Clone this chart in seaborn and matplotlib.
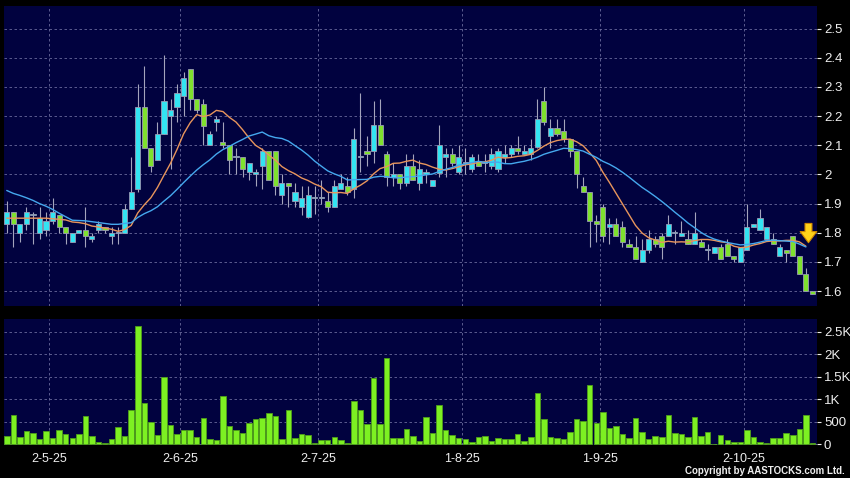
import numpy as np
import pandas as pd
import matplotlib
matplotlib.use("Agg")
import matplotlib.pyplot as plt
import seaborn as sns

# Daily candles, oldest first
open_ = [1.83, 1.87, 1.80, 1.83, 1.86, 1.80, 1.81, 1.84, 1.86, 1.82,
         1.77, 1.80, 1.81, 1.78, 1.81, 1.82, 1.79, 1.80, 1.80, 1.88,
         1.95, 2.23, 2.09, 2.05, 2.14, 2.20, 2.23, 2.27, 2.36, 2.26,
         2.24, 2.10, 2.18, 2.11, 2.10, 2.06, 2.06, 2.01, 2.00, 2.03,
         2.08, 2.08, 1.93, 1.97, 1.91, 1.89, 1.855, 1.92, 1.92, 1.91,
         1.89, 1.95, 1.96, 1.95, 2.06, 2.08, 2.08, 2.17, 2.07, 1.99,
         2.00, 1.97, 2.03, 1.97, 2.00, 1.96, 2.005, 2.06, 2.07, 2.01,
         2.04, 2.02, 2.045, 2.04, 2.03, 2.02, 2.06, 2.07, 2.09, 2.07,
         2.07, 2.095, 2.25, 2.13, 2.16, 2.15, 2.12, 2.08, 1.96, 1.94,
         1.84, 1.89, 1.82, 1.83, 1.82, 1.76, 1.75, 1.70, 1.74, 1.78,
         1.79, 1.79, 1.80, 1.79, 1.78, 1.76, 1.77, 1.74, 1.73, 1.75,
         1.76, 1.72, 1.70, 1.74, 1.82, 1.81, 1.78, 1.78, 1.72, 1.74,
         1.79, 1.72, 1.66, 1.60]
high = [1.91, 1.87, 1.83, 1.89, 1.87, 1.89, 1.87, 1.92, 1.86, 1.82,
        1.80, 1.81, 1.89, 1.80, 1.84, 1.82, 1.82, 1.82, 1.90, 2.06,
        2.31, 2.37, 2.09, 2.18, 2.41, 2.26, 2.31, 2.35, 2.36, 2.26,
        2.26, 2.15, 2.20, 2.18, 2.10, 2.09, 2.06, 2.04, 2.02, 2.09,
        2.08, 2.08, 2.00, 1.97, 1.97, 1.96, 1.96, 1.96, 1.98, 1.94,
        1.98, 2.00, 1.99, 2.16, 2.28, 2.13, 2.25, 2.26, 2.08, 2.04,
        2.00, 2.07, 2.07, 2.05, 2.02, 1.98, 2.17, 2.09, 2.09, 2.10,
        2.09, 2.07, 2.07, 2.07, 2.09, 2.09, 2.10, 2.10, 2.13, 2.10,
        2.12, 2.26, 2.30, 2.19, 2.19, 2.19, 2.12, 2.08, 1.99, 1.94,
        1.86, 1.90, 1.85, 1.85, 1.84, 1.78, 1.79, 1.78, 1.81, 1.79,
        1.80, 1.86, 1.81, 1.84, 1.81, 1.87, 1.78, 1.76, 1.75, 1.76,
        1.78, 1.72, 1.75, 1.90, 1.83, 1.88, 1.82, 1.80, 1.76, 1.74,
        1.79, 1.72, 1.68, 1.60]
low = [1.80, 1.75, 1.77, 1.81, 1.76, 1.78, 1.79, 1.83, 1.80, 1.76,
       1.77, 1.80, 1.75, 1.77, 1.80, 1.80, 1.76, 1.76, 1.80, 1.88,
       1.94, 2.09, 2.01, 2.05, 2.14, 2.02, 2.18, 2.20, 2.22, 2.21,
       2.10, 2.10, 2.15, 2.09, 2.00, 2.00, 1.99, 1.98, 1.96, 1.95,
       1.98, 1.93, 1.90, 1.89, 1.89, 1.86, 1.85, 1.865, 1.90, 1.87,
       1.89, 1.95, 1.93, 1.92, 2.01, 2.03, 2.04, 2.10, 1.96, 1.96,
       1.95, 1.96, 1.98, 1.945, 1.97, 1.96, 1.99, 1.99, 2.03, 2.00,
       2.00, 2.01, 2.03, 2.01, 2.02, 2.01, 2.04, 2.06, 2.07, 2.07,
       2.05, 2.09, 2.17, 2.09, 2.13, 2.11, 2.06, 1.955, 1.94, 1.75,
       1.77, 1.77, 1.76, 1.79, 1.75, 1.75, 1.71, 1.70, 1.73, 1.75,
       1.71, 1.79, 1.76, 1.79, 1.76, 1.76, 1.75, 1.705, 1.73, 1.71,
       1.72, 1.70, 1.70, 1.74, 1.82, 1.81, 1.78, 1.76, 1.72, 1.70,
       1.72, 1.66, 1.60, 1.59]
close = [1.87, 1.83, 1.83, 1.87, 1.86, 1.85, 1.84, 1.87, 1.82, 1.80,
         1.80, 1.81, 1.79, 1.79, 1.83, 1.81, 1.80, 1.80, 1.88, 1.94,
         2.23, 2.09, 2.03, 2.14, 2.25, 2.22, 2.28, 2.33, 2.26, 2.22,
         2.165, 2.14, 2.19, 2.10, 2.05, 2.06, 2.02, 2.04, 2.01, 2.08,
         1.98, 1.96, 1.97, 1.96, 1.94, 1.92, 1.93, 1.92, 1.92, 1.89,
         1.96, 1.97, 1.94, 2.12, 2.06, 2.07, 2.17, 2.10, 1.99, 2.00,
         1.97, 2.03, 1.98, 2.02, 2.01, 1.98, 2.10, 2.07, 2.04, 2.06,
         2.04, 2.06, 2.03, 2.04, 2.07, 2.08, 2.07, 2.09, 2.08, 2.08,
         2.09, 2.19, 2.18, 2.16, 2.14, 2.12, 2.08, 2.00, 1.94, 1.84,
         1.83, 1.79, 1.83, 1.79, 1.77, 1.75, 1.71, 1.74, 1.78, 1.76,
         1.75, 1.83, 1.80, 1.80, 1.76, 1.80, 1.75, 1.74, 1.75, 1.71,
         1.72, 1.71, 1.75, 1.82, 1.83, 1.85, 1.82, 1.76, 1.75, 1.73,
         1.72, 1.66, 1.60, 1.59]
volume = [187, 650, 150, 300, 240, 105, 300, 135, 315, 215,
          127, 225, 620, 172, 52, 22, 112, 375, 172, 755,
          2637, 910, 500, 210, 1494, 433, 232, 315, 315, 165,
          575, 112, 82, 1075, 403, 320, 254, 463, 560, 590,
          695, 635, 112, 762, 127, 232, 194, 22, 97, 82,
          165, 90, 22, 964, 755, 456, 1479, 448, 1912, 142,
          142, 329, 172, 60, 605, 246, 881, 314, 194, 142,
          120, 37, 164, 179, 75, 127, 112, 112, 232, 75,
          149, 1143, 568, 164, 142, 112, 269, 560, 508, 1315,
          471, 710, 359, 403, 232, 127, 583, 261, 105, 172,
          149, 650, 254, 217, 164, 605, 172, 269, 0, 194,
          90, 52, 52, 314, 164, 52, 22, 127, 127, 246,
          202, 344, 650, 22]

# moving averages at the left edge (their windows start before the chart)
ma10_head = [1.85, 1.85, 1.85, 1.85, 1.85, 1.85, 1.85, 1.848, 1.846]
ma20_head = [1.945, 1.935, 1.928, 1.92, 1.911, 1.90, 1.891, 1.88, 1.867, 1.855,
             1.843, 1.842, 1.841, 1.838, 1.835, 1.832, 1.829, 1.829, 1.832]

month_pos = [6.5, 26.5, 47.5, 69.5, 90.5, 112.5]
month_labels = ["2-5-25", "2-6-25", "2-7-25", "1-8-25", "1-9-25", "2-10-25"]
price_ticks = [1.6, 1.7, 1.8, 1.9, 2.0, 2.1, 2.2, 2.3, 2.4, 2.5]
price_labels = ["1.6", "1.7", "1.8", "1.9", "2", "2.1", "2.2", "2.3", "2.4", "2.5"]
vol_ticks = [0, 500, 1000, 1500, 2000, 2500]
vol_labels = ["0", "500", "1K", "1.5K", "2K", "2.5K"]

NAVY = "#01023f"
UP = "#33e4f2"
DOWN = "#7fe12e"
GRID = "#6a6a9c"
TXT = "#eeeeee"

sns.set_style("dark")
plt.rcParams["font.family"] = ["Liberation Sans", "DejaVu Sans"]

df = pd.DataFrame({"open": open_, "high": high, "low": low,
                   "close": close, "volume": volume})
df["idx"] = np.arange(len(df))
df["ma10"] = df["close"].rolling(10).mean()
df["ma20"] = df["close"].rolling(20).mean()
df.loc[:len(ma10_head) - 1, "ma10"] = ma10_head
df.loc[:len(ma20_head) - 1, "ma20"] = ma20_head
n = len(df)

fig = plt.figure(figsize=(8.5, 4.78), dpi=100, facecolor="black")
ax = fig.add_axes([4 / 850, 1 - 306 / 478, 813 / 850, 300.5 / 478])
axv = fig.add_axes([4 / 850, 1 - 445 / 478, 813 / 850, 126 / 478])

for a in (ax, axv):
    a.set_facecolor(NAVY)
    for s in a.spines.values():
        s.set_visible(False)
    a.grid(True, color=GRID, linestyle=(0, (3, 3)), linewidth=0.6)
    a.set_axisbelow(True)

# candles
up = df["close"] >= df["open"]
body_lo = df[["open", "close"]].min(axis=1)
body_h = (df["close"] - df["open"]).abs().clip(lower=0.004)
ax.vlines(df["idx"], df["low"], df["high"], color="#a4a4bc", lw=0.8, zorder=2)
ax.bar(df["idx"], body_h, bottom=body_lo, width=0.78,
       color=np.where(up, UP, DOWN), edgecolor="#9a9ab4", linewidth=0.6, zorder=3)

# moving averages (the last bar has none yet)
ma = df.iloc[:n - 1]
sns.lineplot(x=ma["idx"], y=ma["ma10"], ax=ax, color="#e8955c", lw=1.0, zorder=4)
sns.lineplot(x=ma["idx"], y=ma["ma20"], ax=ax, color="#45a8ee", lw=1.0, zorder=4)

ax.annotate("", xy=(122.4, 1.766), xytext=(122.4, 1.832),
            arrowprops=dict(facecolor="#ffd21a", edgecolor="#d08800", lw=0.8,
                            width=5.0, headwidth=12, headlength=8), zorder=6)

ax.set_xlim(-0.42, 123.7)
ax.set_ylim(1.549, 2.579)
ax.set_xticks(month_pos)
ax.set_yticks(price_ticks)
ax.set_yticklabels(price_labels)
ax.yaxis.tick_right()
ax.tick_params(axis="x", length=0, labelbottom=False)
ax.tick_params(axis="y", colors=TXT, length=3, width=0.8, labelsize=9.5, pad=2)
ax.set_xlabel("")
ax.set_ylabel("")

# volume
sns.barplot(x=df["idx"], y=df["volume"], ax=axv, color="#7df022",
            edgecolor="#4f9f1a", linewidth=0.6, width=0.84, saturation=1,
            errorbar=None, native_scale=True, zorder=3)
axv.set_xlim(-0.42, 123.7)
axv.set_ylim(-22, 2790)
axv.set_xticks(month_pos)
axv.set_xticklabels(month_labels)
axv.set_yticks(vol_ticks)
axv.set_yticklabels(vol_labels)
axv.yaxis.tick_right()
axv.tick_params(axis="x", colors=TXT, length=3, width=0.8, labelsize=9, pad=3)
axv.tick_params(axis="y", colors=TXT, length=3, width=0.8, labelsize=9.5, pad=2)
axv.set_xlabel("")
axv.set_ylabel("")

fig.text(845 / 850, 1 - 471 / 478, "Copyright by AASTOCKS.com Ltd.", color=TXT,
         fontsize=7, fontweight="bold", ha="right", va="center")

fig.savefig("out.png", dpi=100, facecolor="black")
